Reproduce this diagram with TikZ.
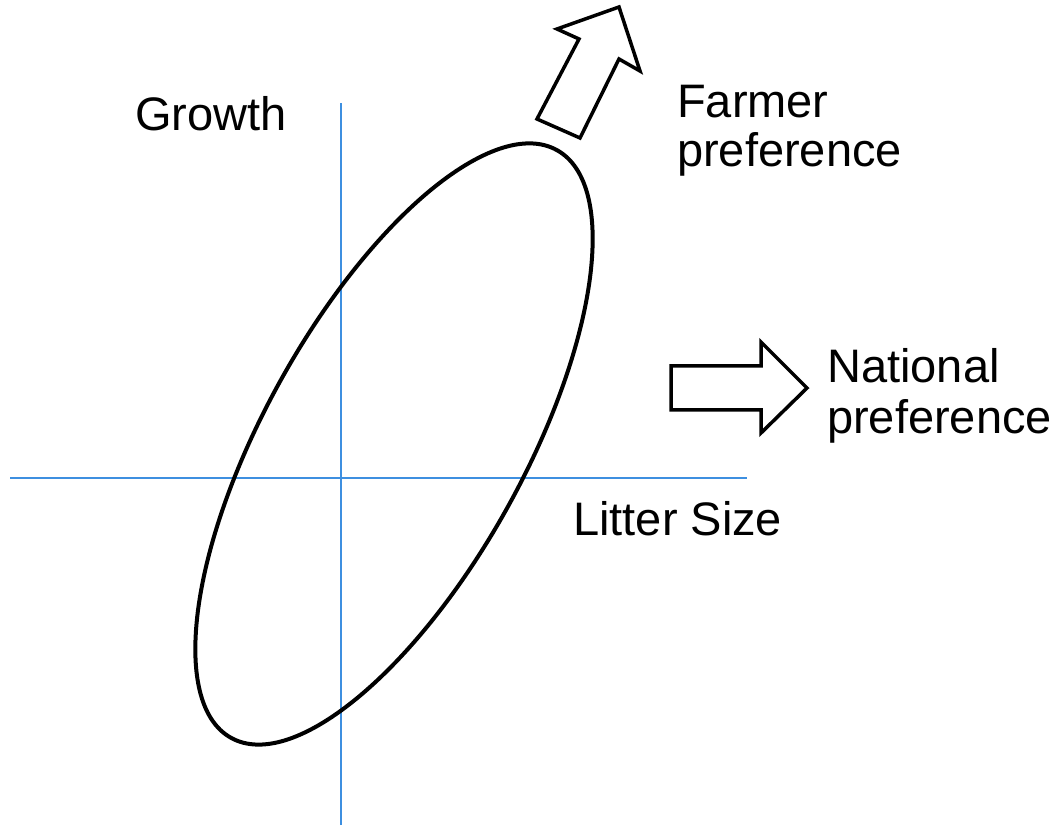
\documentclass[tikz,border=0pt]{standalone}
\usepackage{fontspec}
\setmainfont{Liberation Sans}
\definecolor{axisblue}{RGB}{61,143,224}
\begin{document}
\begin{tikzpicture}[x=1pt,y=1pt,
  axis/.style={draw=axisblue,line width=2.5pt},
  cloud/.style={draw=black,line width=4pt},
  blockarrow/.style={draw=black,line width=3.5pt,line join=miter,fill=white},
  lbl/.style={anchor=base west,inner sep=0pt,font=\fontsize{47}{49}\selectfont}]
\useasboundingbox (0,0) rectangle (1059,825);
% axes
\coordinate (xl) at (10,347);
\coordinate (xr) at (747,347);
\coordinate (yb) at (341,0);
\coordinate (yt) at (341,722);
\draw[axis] (xl) -- (xr);
\draw[axis] (yb) -- (yt);
% ellipse
\coordinate (ec) at (394,381);
\draw[cloud,rotate around={61:(ec)}] (ec) ellipse [x radius=336, y radius=130];
% farmer arrow
\coordinate (f1) at (537,706);
\coordinate (f2) at (580,687);
\coordinate (f3) at (619,766);
\coordinate (f4) at (640,754);
\coordinate (f5) at (619,818);
\coordinate (f6) at (557,796);
\coordinate (f7) at (579,786);
\draw[blockarrow] (f1) -- (f2) -- (f3) -- (f4) -- (f5) -- (f6) -- (f7) -- cycle;
% national arrow
\coordinate (n1) at (671,459);
\coordinate (n2) at (761,459);
\coordinate (n3) at (761,483);
\coordinate (n4) at (807,437);
\coordinate (n5) at (761,392);
\coordinate (n6) at (761,415);
\coordinate (n7) at (671,415);
\draw[blockarrow] (n1) -- (n2) -- (n3) -- (n4) -- (n5) -- (n6) -- (n7) -- cycle;
% labels
\node[lbl] (growth) at (135,694) {Growth};
\node[lbl] (farmer1) at (677,707) {Farmer};
\node[lbl] (farmer2) at (677,658) {preference};
\node[lbl] (nat1) at (827,442) {National};
\node[lbl] (nat2) at (827,391) {preference};
\node[lbl] (litter) at (573,290) {Litter Size};
\end{tikzpicture}
\end{document}
